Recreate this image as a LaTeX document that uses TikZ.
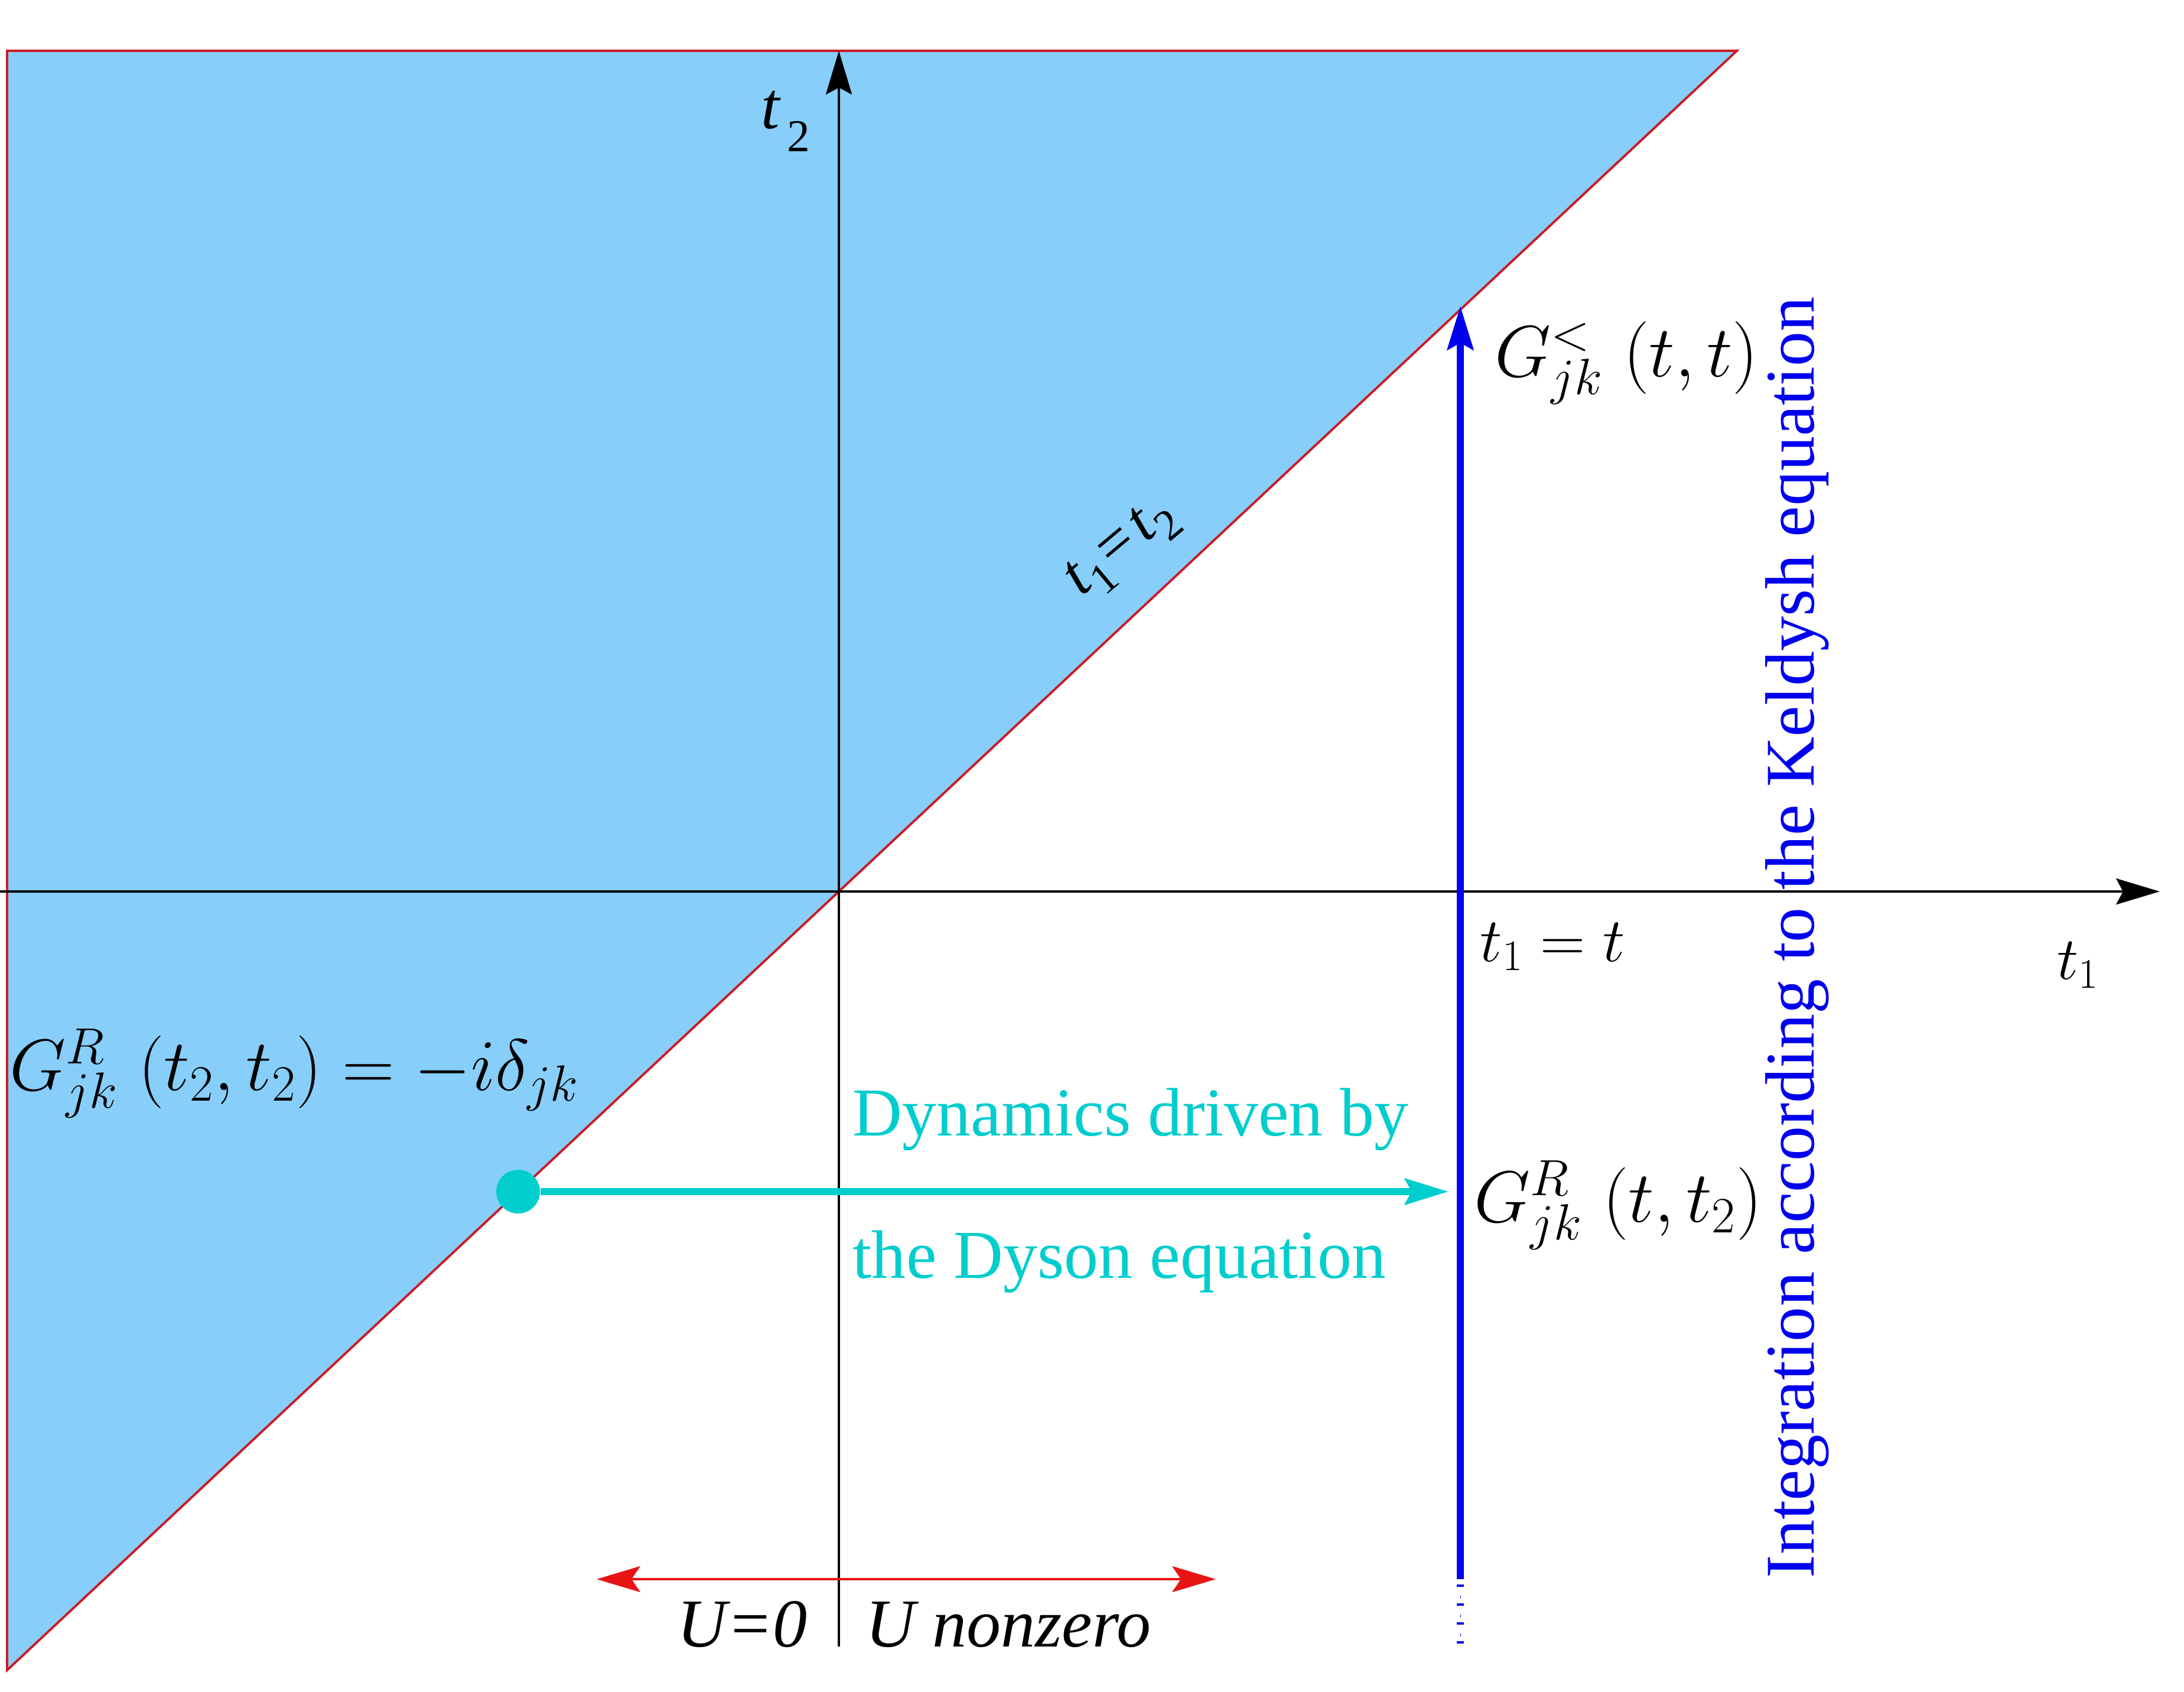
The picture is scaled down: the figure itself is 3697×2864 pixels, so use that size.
\RequirePackage{fix-cm}
\documentclass[tikz,border=0pt]{standalone}
\usepackage[no-math]{fontspec}
\setmainfont{Liberation Serif}
\usetikzlibrary{arrows.meta}
\definecolor{skyfill}{RGB}{135,206,250}
\definecolor{edgered}{RGB}{205,25,35}
\definecolor{arrred}{RGB}{232,20,20}
\definecolor{turq}{RGB}{0,205,205}
\definecolor{kblue}{RGB}{0,0,240}
\begin{document}
\begin{tikzpicture}[x=0.01cm,y=-0.01cm,
  bigtip/.style={-{Stealth[length=21pt,width=12.5pt,inset=3.3pt]}},
  axisline/.style={line width=1.3pt,bigtip},
  mathlbl/.style={inner sep=0pt,anchor=base west,font=\fontsize{35}{40}\selectfont},
  smallmath/.style={inner sep=0pt,anchor=base west,font=\fontsize{30}{34}\selectfont},
  serif/.style={inner sep=0pt,anchor=base west,font=\fontsize{33}{38}\selectfont},
  dotstyle/.style={circle,fill=turq,inner sep=0pt,minimum size=0.74cm}]
\useasboundingbox (0,0) rectangle (3697,2864);
% shaded region t2 > t1
\fill[white] (0,0) rectangle (3697,2864);
\filldraw[fill=skyfill,draw=edgered,line width=1.1pt,line join=miter]
  (12,86) -- (2940,86) -- (12,2827) -- cycle;
% axes
\coordinate (O) at (1420,1509);
\coordinate (xstart) at (0,1509);
\coordinate (xend) at (3656,1509);
\coordinate (ybot) at (1420,2787);
\coordinate (ytop) at (1420,86);
\draw[axisline] (xstart) -- (xend);
\draw[axisline] (ybot) -- (ytop);
% blue integration arrow
\coordinate (bluebot) at (2472,2673);
\coordinate (bluetop) at (2472,518);
\coordinate (bluedash) at (2472,2790);
\draw[kblue,line width=3.4pt,bigtip] (bluebot) -- (bluetop);
\draw[kblue,line width=3.4pt,dash pattern=on 1.2pt off 7.9pt] ([yshift=-2.5pt]bluebot) -- (bluedash);
\draw[kblue,line width=0.3pt,dash pattern=on 1.5pt off 7.6pt] ([yshift=-8pt]bluebot) -- (bluedash);
% cyan dyson arrow
\node[dotstyle] (dot) at (877,2017) {};
\coordinate (cyanend) at (2452,2017);
\draw[turq,line width=3.4pt,bigtip] (dot) -- (cyanend);
% red U arrow
\coordinate (uleft) at (1010,2673);
\coordinate (uright) at (2058,2673);
\draw[arrred,line width=1.1pt,{Stealth[length=21pt,width=12.5pt,inset=4.2pt]}-{Stealth[length=21pt,width=12.5pt,inset=4.2pt]}] (uleft) -- (uright);
% labels
\node[inner sep=0pt,anchor=base west,font=\fontsize{32}{36}\selectfont] (t2lbl) at (1288,218)
  {\textit{t}\hspace{3pt}\raisebox{-11pt}{\fontsize{22}{24}\selectfont 2}};
\node[inner sep=0pt,rotate=40,font=\fontsize{30}{34}\selectfont] (diaglbl) at (1900,930)
  {\textit{t}\raisebox{-7pt}{\fontsize{21}{23}\selectfont 1}\hspace{1pt}=\hspace{3pt}\textit{t}\raisebox{-7pt}{\fontsize{21}{23}\selectfont 2}};
\node[mathlbl] (gless) at (2530,637) {$G^{<}_{jk}\;\bigl(t,t\bigr)$};
\node[mathlbl] (grt) at (2495,2068) {$G^{R}_{jk}\;\bigl(t,t_{2}\bigr)$};
\node[mathlbl] (grinit) at (16,1845) {$G^{R}_{jk}\;\bigl(t_{2},t_{2}\bigr)=-i\delta_{jk}$};
\node[smallmath] (t1t) at (2505,1627) {$t_{1}=t$};
\node[inner sep=0pt,anchor=base west,font=\fontsize{29}{33}\selectfont] (t1lbl) at (3482,1657) {$t_{1}$};
\node[serif,text=turq] (dyn1) at (1443,1922) {Dynamics driven by};
\node[serif,text=turq] (dyn2) at (1443,2163) {the Dyson equation};
\node[serif,text=kblue,rotate=90,font=\fontsize{33.6}{38}\selectfont] (keld) at (3070,2672) {Integration according to the Keldysh equation};
\node[serif,font=\fontsize{33}{38}\selectfont\itshape] (u0) at (1146,2787) {U=0};
\node[serif,font=\fontsize{33}{38}\selectfont\itshape] (unz) at (1465,2787) {U nonzero};
\end{tikzpicture}
\end{document}
